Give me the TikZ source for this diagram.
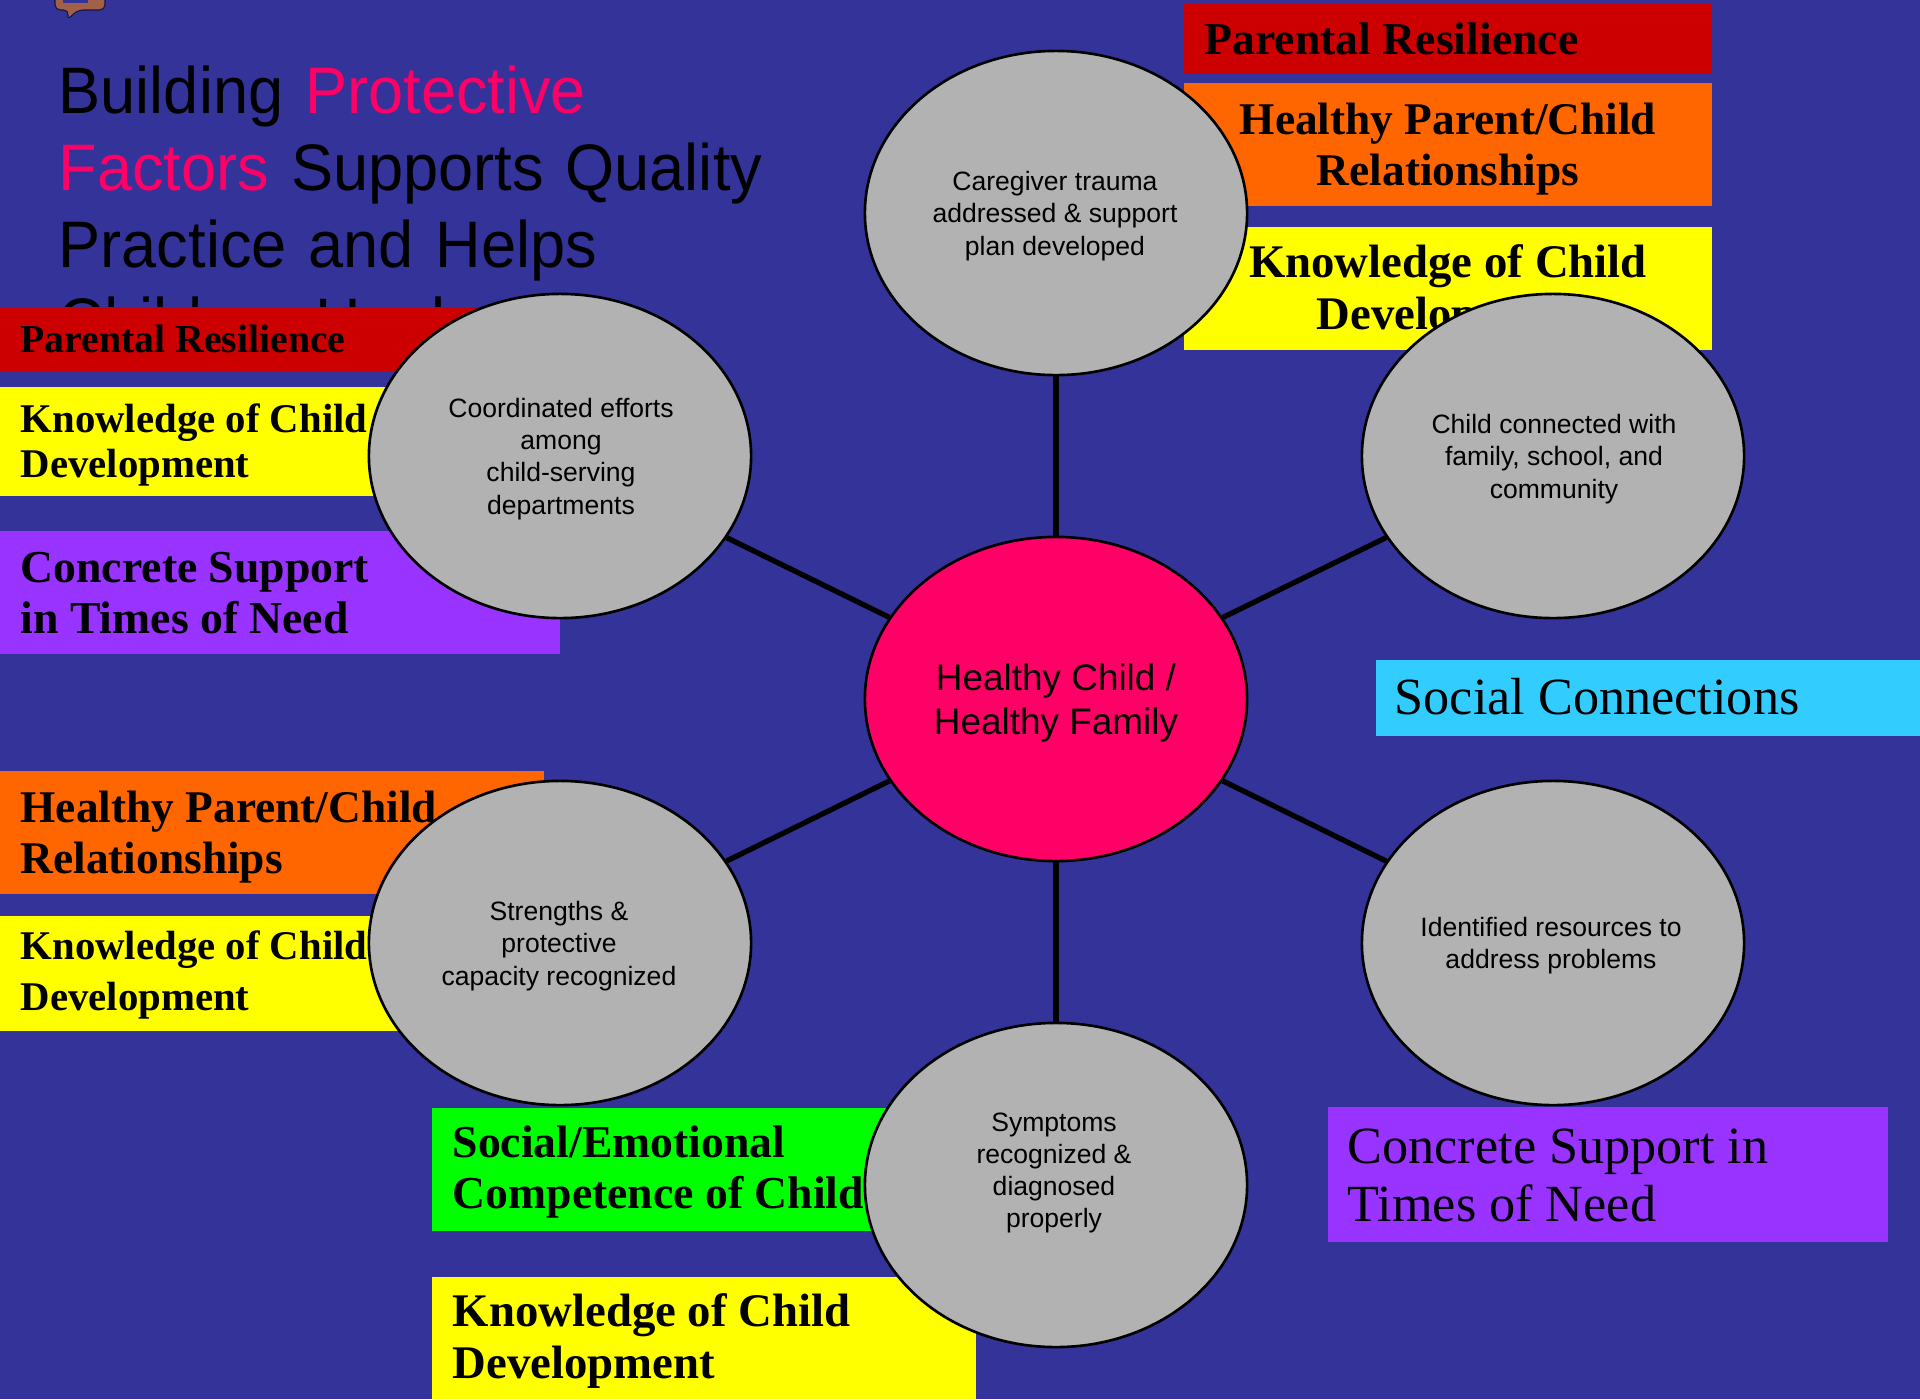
\documentclass[tikz,border=0pt]{standalone}
\usepackage{fontspec}
\setmainfont{Liberation Sans}
\newfontfamily\boxfont{Liberation Serif}
\newfontfamily\titlefont[FakeStretch=0.96]{Liberation Sans}
\usetikzlibrary{shapes.geometric}

\definecolor{bgblue}{HTML}{333399}
\definecolor{hotpink}{HTML}{FF0066}
\definecolor{ovalgray}{HTML}{B2B2B2}
\definecolor{resred}{HTML}{CC0000}
\definecolor{reorange}{HTML}{FF6600}
\definecolor{kidyellow}{HTML}{FFFF00}
\definecolor{supurple}{HTML}{9933FF}
\definecolor{socyan}{HTML}{33CCFF}
\definecolor{compgreen}{HTML}{00FF00}
\definecolor{iconbrown}{HTML}{A0604A}

\tikzset{
	oval/.style={ellipse,draw=black,line width=0.75pt,fill=ovalgray,minimum width=3.82cm,minimum height=3.24cm,inner sep=0pt},
	ovaltext/.style={inner sep=0pt,align=center,font=\fontsize{7.55}{9.15}\selectfont},
	spoke/.style={draw=black,line width=1.5pt},
	band/.style={anchor=north west,inner sep=0pt,outer sep=0pt},
	bandtext/.style n args={2}{inner sep=0pt,font=\boxfont\bfseries\fontsize{#1}{#2}\selectfont,align=left,anchor=west},
	plaintext/.style={inner sep=0pt,font=\boxfont\fontsize{14.85}{16.5}\selectfont,align=left,anchor=west},
}
% pbox: name, x, y, width, height, colour
\newcommand{\pbox}[6]{\node[band,fill=#6,minimum width=#4*0.01cm,minimum height=#5*0.01cm] (#1) at (#2,#3) {};}

\begin{document}
\begin{tikzpicture}[x=0.01cm,y=-0.01cm]
	\useasboundingbox (0,0) rectangle (1920,1399);
	\fill[bgblue] (0,0) rectangle (1920,1399);

	% icon
	\begin{scope}
		\clip (0,0) rectangle (1920,1399);
		\draw[fill=iconbrown,draw=black!60!bgblue,line width=0.3pt,rounded corners=1.5pt] (55,-10) -- (105,-10) -- (105,10) -- (78,10) -- (67,20) -- (69,10) -- (55,10) -- cycle;
		\fill[bgblue] (63,-5) rectangle (88,2.5);
	\end{scope}

	% title
	\node[anchor=north west,inner sep=0pt,text width=14cm,align=left,font=\titlefont\fontsize{18.7}{21.9}\selectfont] (title) at (58,65) {Building \textcolor{hotpink}{Protective}\\ \textcolor{hotpink}{Factors} Supports Quality\\ Practice and Helps\\ Children Heal};

	% boxes
	\pbox{rtop}{1184}{3}{528}{71}{resred}
	\pbox{otop}{1184}{83}{528}{123}{reorange}
	\pbox{ytop}{1184}{227}{528}{123}{kidyellow}
	\pbox{rleft}{0}{307}{560}{64}{resred}
	\pbox{yleft}{0}{387}{560}{109}{kidyellow}
	\pbox{pleft}{0}{531}{560}{123}{supurple}
	\pbox{oleft}{0}{771}{544}{123}{reorange}
	\pbox{ylow}{0}{916}{544}{115}{kidyellow}
	\pbox{gbot}{432}{1108}{544}{123}{compgreen}
	\pbox{ybot}{432}{1277}{544}{122}{kidyellow}
	\pbox{cright}{1376}{660}{544}{76}{socyan}
	\pbox{pright}{1328}{1107}{560}{135}{supurple}

	\node[bandtext={13}{14.6}] (trtop) at (1204,39) {Parental Resilience};
	\node[bandtext={12.9}{14.6},align=center,anchor=center] (trorange) at (1448,149) {Healthy Parent/Child\\Relationships};
	\node[bandtext={13.3}{14.6},align=center,anchor=center] (tryellow) at (1448,292) {Knowledge of Child\\Development};
	\node[bandtext={11.3}{12}] (tlred) at (20,339) {Parental Resilience};
	\node[bandtext={11.6}{12.9}] (tlyel) at (20,445) {Knowledge of Child\\Development};
	\node[bandtext={13}{14.6}] (tlpur) at (20,593) {Concrete Support\\in Times of Need};
	\node[bandtext={12.9}{14.6}] (tlor) at (20,837) {Healthy Parent/Child\\Relationships};
	\node[bandtext={11.6}{14.3}] (tlowyel) at (20,975) {Knowledge of Child\\Development};
	\node[bandtext={13}{14.6}] (tbgreen) at (452,1172) {Social/Emotional\\Competence of Child};
	\node[bandtext={13.3}{14.6}] (tbyel) at (452,1341) {Knowledge of Child\\Development};
	\node[plaintext] (tcyan) at (1394,697) {Social Connections};
	\node[plaintext] (tpright) at (1347,1175) {Concrete Support in\\Times of Need};

	% ovals
	\node[oval,fill=hotpink] (mid) at (1056,699) {};
	\node[oval] (carer) at (1056,213) {};
	\node[oval] (coord) at (560,456) {};
	\node[oval] (conn) at (1553,456) {};
	\node[oval] (strength) at (560,943) {};
	\node[oval] (resource) at (1553,943) {};
	\node[oval] (symptom) at (1056,1185) {};

	\node[ovaltext,font=\fontsize{10.5}{12.5}\selectfont] (tmid) at (1056,703) {Healthy Child /\\Healthy Family};
	\node[ovaltext] (tcarer) at (1055,216) {Caregiver trauma\\addressed \& support\\plan developed};
	\node[ovaltext] (tcoord) at (561,459) {Coordinated efforts\\among\\child-serving\\departments};
	\node[ovaltext] (tconn) at (1554,459) {Child connected with\\family, school, and\\community};
	\node[ovaltext] (tstrength) at (559,946) {Strengths \&\\protective\hspace*{2.4pt}\\capacity recognized};
	\node[ovaltext] (tresource) at (1551,946) {Identified resources to\\address problems};
	\node[ovaltext] (tsymptom) at (1054,1173) {Symptoms\\recognized \&\\diagnosed\\properly};

	\draw[spoke] (mid) -- (carer);
	\draw[spoke] (mid) -- (coord);
	\draw[spoke] (mid) -- (conn);
	\draw[spoke] (mid) -- (strength);
	\draw[spoke] (mid) -- (resource);
	\draw[spoke] (mid) -- (symptom);
\end{tikzpicture}
\end{document}
